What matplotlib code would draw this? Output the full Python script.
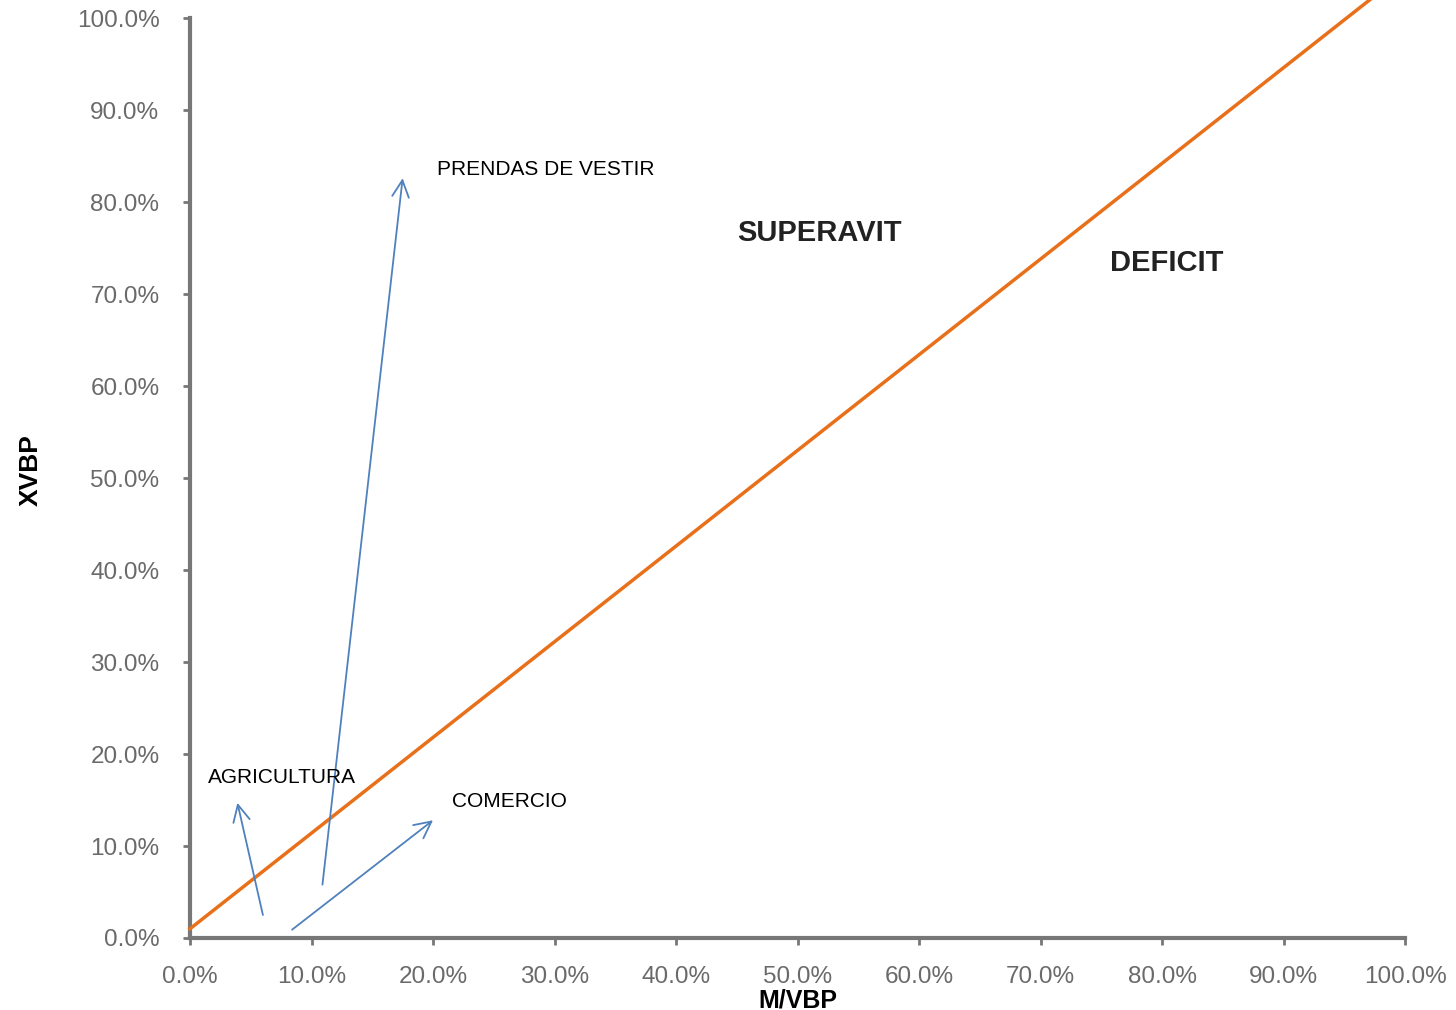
import matplotlib.pyplot as plt
from matplotlib.ticker import PercentFormatter

# balance line (orange) endpoints, in percent
line_x = [0.0, 97.1]
line_y = [1.0, 102.0]

# arrows: (label, tail x, tail y, head x, head y)
arrow_names = ['PRENDAS DE VESTIR', 'AGRICULTURA', 'COMERCIO']
arrow_x0 = [10.9, 6.0, 8.4]
arrow_y0 = [5.8, 2.5, 0.9]
arrow_x1 = [17.5, 3.9, 20.0]
arrow_y1 = [82.6, 14.7, 12.8]

# text labels
label_text = ['PRENDAS DE VESTIR', 'AGRICULTURA', 'COMERCIO']
label_x = [20.3, 1.5, 21.6]
label_y = [83.6, 17.5, 14.8]

region_text = ['SUPERAVIT', 'DEFICIT']
region_x = [45.0, 75.7]
region_y = [76.6, 73.4]

ticks = [0, 10, 20, 30, 40, 50, 60, 70, 80, 90, 100]

plt.rcParams['font.family'] = ['Liberation Sans', 'DejaVu Sans']

fig = plt.figure(figsize=(14.56, 10.10), dpi=100)
ax = fig.add_axes([0.1305, 0.0713, 0.8345, 0.9107])

ax.plot(line_x, line_y, color='#e8701a', lw=2.5, clip_on=False, zorder=3)

for i in range(len(arrow_names)):
    ax.annotate('', xy=(arrow_x1[i], arrow_y1[i]), xytext=(arrow_x0[i], arrow_y0[i]),
                arrowprops=dict(arrowstyle='->', color='#4f81bd', lw=1.3,
                                mutation_scale=30, shrinkA=0, shrinkB=0))

for t, x, y in zip(label_text, label_x, label_y):
    ax.text(x, y, t, fontsize=15, color='black', va='center', ha='left')

for t, x, y in zip(region_text, region_x, region_y):
    ax.text(x, y, t, fontsize=21, fontweight='bold', color='#222222', va='center', ha='left')

ax.set_xlim(0, 100)
ax.set_ylim(0, 100)
ax.set_xticks(ticks)
ax.set_yticks(ticks)
ax.xaxis.set_major_formatter(PercentFormatter(decimals=1))
ax.yaxis.set_major_formatter(PercentFormatter(decimals=1))
ax.tick_params(axis='both', colors='#777777', labelcolor='#6a6a6a', labelsize=17.5,
               length=5, width=2, direction='out')
ax.tick_params(axis='x', pad=15)
ax.tick_params(axis='y', pad=17)

for s in ['top', 'right']:
    ax.spines[s].set_visible(False)
for s in ['left', 'bottom']:
    ax.spines[s].set_color('#777777')
    ax.spines[s].set_linewidth(3)

ax.set_xlabel('M/VBP', fontsize=18, fontweight='bold', va='center')
ax.set_ylabel('XVBP', fontsize=19, fontweight='bold', va='center')
ax.xaxis.set_label_coords(0.5, -0.0675)
ax.yaxis.set_label_coords(-0.131, 0.509)

fig.savefig('out.png', dpi=100)
